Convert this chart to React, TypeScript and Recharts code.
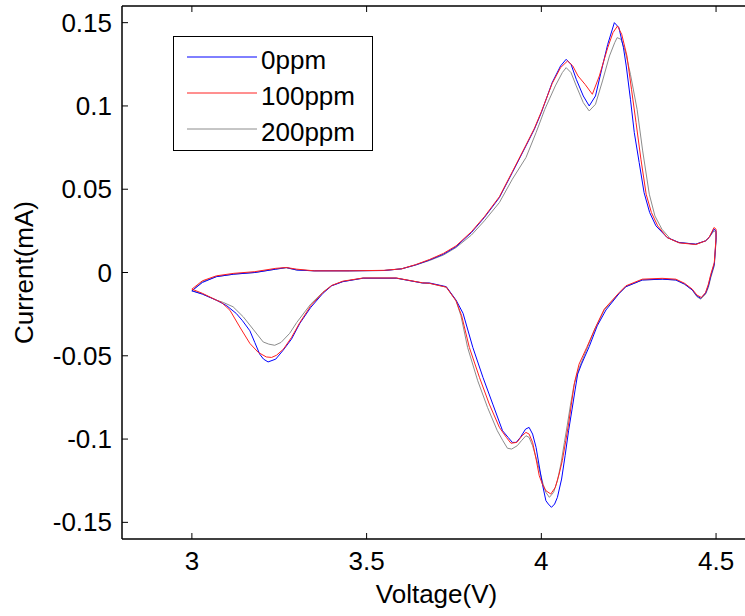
import { LineChart, Line, XAxis, YAxis, Legend, Label } from 'recharts'

const xTicks = [3, 3.5, 4, 4.5]
const yTicks = [-0.15, -0.1, -0.05, 0, 0.05, 0.1, 0.15]
const xDomain = [2.8, 4.6]
const yDomain = [-0.16, 0.16]
const seriesNames = ['0ppm', '100ppm', '200ppm']
const seriesColors = ['#0000ff', '#ff2020', '#8c8c8c']

// each loop: anodic sweep 3.0 -> 4.5, then cathodic sweep back to 3.0
const volt0 = [
  3.0, 3.03, 3.07, 3.12, 3.18, 3.24, 3.27, 3.3, 3.35, 3.45, 3.55, 3.6, 3.64, 3.68, 3.72, 3.756, 3.8, 3.837, 3.88,
  3.917, 3.956, 3.98, 4.0, 4.031, 4.055, 4.071, 4.085, 4.1, 4.12, 4.137, 4.155, 4.175, 4.19, 4.209, 4.222, 4.235,
  4.243, 4.255, 4.266, 4.28, 4.294, 4.31, 4.328, 4.36, 4.394, 4.442, 4.47, 4.48, 4.494, 4.5,
  4.5, 4.495, 4.485, 4.478, 4.47, 4.456, 4.445, 4.432, 4.41, 4.385, 4.346, 4.289, 4.242, 4.223, 4.185, 4.16, 4.137,
  4.115, 4.104, 4.097, 4.088, 4.078, 4.068, 4.058, 4.046, 4.038, 4.029, 4.02, 4.013, 4.003, 3.993, 3.985, 3.975,
  3.965, 3.955, 3.94, 3.928, 3.917, 3.905, 3.889, 3.861, 3.833, 3.804, 3.776, 3.756, 3.728, 3.68, 3.66, 3.585,
  3.49, 3.432, 3.4, 3.375, 3.34, 3.309, 3.285, 3.261, 3.24, 3.218, 3.205, 3.194, 3.18, 3.166, 3.145, 3.127, 3.1,
  3.07, 3.03, 3.0,
]
const curr0 = [
  -0.011, -0.006, -0.0025, -0.001, 0.0, 0.002, 0.003, 0.0015, 0.001, 0.001, 0.0012, 0.0022, 0.0045, 0.0075, 0.011,
  0.0155, 0.024, 0.033, 0.045, 0.06, 0.076, 0.086, 0.096, 0.114, 0.124, 0.128, 0.125, 0.116, 0.106, 0.1, 0.106,
  0.124, 0.137, 0.15, 0.147, 0.135, 0.124, 0.104, 0.084, 0.066, 0.048, 0.036, 0.028, 0.021, 0.018, 0.017, 0.019,
  0.021, 0.026, 0.025,
  0.02, 0.005, -0.002, -0.008, -0.0125, -0.0155, -0.014, -0.0105, -0.007, -0.0045, -0.004, -0.0045, -0.0085,
  -0.0125, -0.0225, -0.032, -0.0445, -0.055, -0.061, -0.07, -0.082, -0.095, -0.11, -0.124, -0.135, -0.139,
  -0.141, -0.139, -0.137, -0.127, -0.115, -0.105, -0.097, -0.093, -0.094, -0.099, -0.102, -0.102, -0.099,
  -0.095, -0.079, -0.063, -0.045, -0.0245, -0.0166, -0.0085, -0.0063, -0.0063, -0.0034, -0.0034, -0.0055,
  -0.008, -0.0125, -0.021, -0.0305, -0.04, -0.0467, -0.052, -0.0537, -0.052, -0.049, -0.042, -0.035, -0.029,
  -0.0246, -0.02, -0.0166, -0.013, -0.011,
]

const volt100 = [
  3.0, 3.03, 3.07, 3.12, 3.18, 3.24, 3.27, 3.3, 3.35, 3.45, 3.55, 3.6, 3.64, 3.68, 3.72, 3.756, 3.8, 3.837, 3.88,
  3.917, 3.956, 3.98, 4.0, 4.031, 4.055, 4.075, 4.09, 4.105, 4.125, 4.146, 4.166, 4.19, 4.205, 4.218, 4.23, 4.245,
  4.258, 4.271, 4.285, 4.3, 4.315, 4.333, 4.36, 4.394, 4.442, 4.47, 4.48, 4.494, 4.5,
  4.5, 4.495, 4.485, 4.478, 4.47, 4.458, 4.445, 4.432, 4.41, 4.385, 4.346, 4.289, 4.242, 4.223, 4.18, 4.155, 4.13,
  4.108, 4.095, 4.086, 4.078, 4.07, 4.06, 4.051, 4.04, 4.027, 4.013, 4.003, 3.994, 3.985, 3.975, 3.965, 3.956,
  3.945, 3.93, 3.913, 3.9, 3.88, 3.851, 3.823, 3.794, 3.772, 3.756, 3.728, 3.68, 3.66, 3.585, 3.49, 3.432, 3.4,
  3.375, 3.34, 3.309, 3.285, 3.262, 3.242, 3.228, 3.213, 3.19, 3.166, 3.137, 3.109, 3.085, 3.07, 3.03, 3.0,
]
const curr100 = [
  -0.01, -0.005, -0.002, -0.0005, 0.0005, 0.0025, 0.003, 0.002, 0.001, 0.001, 0.0013, 0.0022, 0.0047, 0.0078,
  0.0115, 0.016, 0.0245, 0.0335, 0.0455, 0.0605, 0.0765, 0.0865, 0.0965, 0.1135, 0.123, 0.127, 0.124, 0.118,
  0.113, 0.107, 0.118, 0.135, 0.144, 0.148, 0.143, 0.13, 0.11, 0.09, 0.068, 0.047, 0.036, 0.028, 0.021, 0.0178,
  0.0168, 0.019, 0.021, 0.027, 0.026,
  0.021, 0.006, -0.001, -0.007, -0.012, -0.015, -0.0135, -0.01, -0.0065, -0.004, -0.0035, -0.004, -0.008, -0.012,
  -0.022, -0.033, -0.045, -0.055, -0.066, -0.079, -0.091, -0.101, -0.113, -0.121, -0.129, -0.133, -0.131, -0.127,
  -0.122, -0.112, -0.102, -0.097, -0.096, -0.098, -0.102, -0.1025, -0.099, -0.093, -0.079, -0.063, -0.045,
  -0.026, -0.017, -0.0088, -0.0065, -0.0062, -0.0033, -0.0033, -0.0052, -0.0078, -0.012, -0.02, -0.03, -0.039,
  -0.046, -0.0497, -0.051, -0.0507, -0.048, -0.0426, -0.0327, -0.0227, -0.018, -0.0166, -0.0125, -0.01,
]

const volt200 = [
  3.0, 3.03, 3.07, 3.12, 3.18, 3.24, 3.27, 3.3, 3.35, 3.45, 3.55, 3.6, 3.64, 3.68, 3.72, 3.756, 3.8, 3.837, 3.88,
  3.917, 3.956, 3.985, 4.01, 4.04, 4.06, 4.071, 4.085, 4.1, 4.12, 4.137, 4.155, 4.175, 4.195, 4.21, 4.217, 4.228,
  4.24, 4.255, 4.274, 4.29, 4.309, 4.325, 4.345, 4.37, 4.394, 4.442, 4.47, 4.48, 4.494, 4.5,
  4.5, 4.495, 4.485, 4.478, 4.47, 4.456, 4.445, 4.432, 4.41, 4.385, 4.346, 4.289, 4.242, 4.223, 4.18, 4.153, 4.13,
  4.107, 4.093, 4.083, 4.074, 4.066, 4.056, 4.046, 4.035, 4.023, 4.013, 4.005, 3.99, 3.975, 3.965, 3.956, 3.943,
  3.931, 3.915, 3.903, 3.89, 3.874, 3.846, 3.818, 3.789, 3.77, 3.756, 3.728, 3.68, 3.66, 3.585, 3.49, 3.432, 3.4,
  3.375, 3.34, 3.3, 3.28, 3.255, 3.237, 3.22, 3.204, 3.175, 3.147, 3.118, 3.09, 3.07, 3.03, 3.0,
]
const curr200 = [
  -0.011, -0.0055, -0.0025, -0.001, 0.0, 0.002, 0.0028, 0.0015, 0.001, 0.001, 0.0012, 0.0022, 0.0045, 0.0072,
  0.0105, 0.015, 0.0225, 0.031, 0.042, 0.056, 0.069, 0.084, 0.098, 0.112, 0.12, 0.123, 0.12, 0.112, 0.102, 0.097,
  0.101, 0.115, 0.13, 0.138, 0.141, 0.14, 0.133, 0.119, 0.098, 0.073, 0.047, 0.034, 0.026, 0.02, 0.018, 0.017,
  0.019, 0.021, 0.025, 0.024,
  0.019, 0.004, -0.003, -0.009, -0.013, -0.016, -0.0145, -0.0105, -0.007, -0.0045, -0.004, -0.0045, -0.0085,
  -0.0125, -0.0225, -0.034, -0.046, -0.058, -0.068, -0.08, -0.092, -0.102, -0.115, -0.125, -0.132, -0.135, -0.132,
  -0.127, -0.115, -0.104, -0.099, -0.098, -0.101, -0.104, -0.106, -0.1055, -0.101, -0.095, -0.081, -0.065,
  -0.045, -0.026, -0.017, -0.0088, -0.0065, -0.0063, -0.0034, -0.0034, -0.0054, -0.0078, -0.0118, -0.019, -0.03,
  -0.0365, -0.042, -0.0437, -0.043, -0.0417, -0.034, -0.0266, -0.0206, -0.018, -0.0166, -0.0128, -0.011,
]

function toPoints(volts: number[], currs: number[]) {
  return volts.map((v, k) => ({ v, i: currs[k] }))
}

const series = [
  { name: seriesNames[2], color: seriesColors[2], data: toPoints(volt200, curr200) },
  { name: seriesNames[0], color: seriesColors[0], data: toPoints(volt0, curr0) },
  { name: seriesNames[1], color: seriesColors[1], data: toPoints(volt100, curr100) },
]

const font = 26
const tickLen = 6
const chartW = 760
const chartH = 616
const padTop = 6
const padRight = 9
const xAxisH = 77
const yAxisW = 122
const plotH = chartH - padTop - xAxisH
const plotW = chartW - padRight - yAxisW

// matlab style: tick marks point into the box on all four sides, labels sit outside
function BottomTick(props: any) {
  const { x, y, payload } = props
  const axisY = y - tickLen
  return (
    <g>
      <line x1={x} x2={x} y1={axisY} y2={axisY - tickLen} stroke="#000" />
      <line x1={x} x2={x} y1={axisY - plotH} y2={axisY - plotH + tickLen} stroke="#000" />
      <text x={x} y={axisY + 31} textAnchor="middle" fontSize={font} fill="#000">
        {payload.value}
      </text>
    </g>
  )
}

function LeftTick(props: any) {
  const { x, y, payload } = props
  const axisX = x + tickLen
  return (
    <g>
      <line x1={axisX} x2={axisX + tickLen} y1={y} y2={y} stroke="#000" />
      <line x1={axisX + plotW} x2={axisX + plotW - tickLen} y1={y} y2={y} stroke="#000" />
      <text x={axisX - 10} y={y + 9} textAnchor="end" fontSize={font} fill="#000">
        {payload.value}
      </text>
    </g>
  )
}

function BoxLegend() {
  return (
    <svg width={200} height={115} style={{ display: 'block' }}>
      <rect x={0.5} y={0.5} width={199} height={114} fill="#fff" stroke="#000" />
      {seriesNames.map((name, k) => (
        <g key={name}>
          <line x1={14} x2={84} y1={21 + k * 36} y2={21 + k * 36} stroke={seriesColors[k]} strokeWidth={1} />
          <text x={88} y={33 + k * 36} fontSize={font} fill="#000">
            {name}
          </text>
        </g>
      ))}
    </svg>
  )
}

function XTitle(props: any) {
  const vb = props.viewBox
  return (
    <text x={vb.x + vb.width / 2} y={vb.y + 64} textAnchor="middle" fontSize={font} fill="#000">
      Voltage(V)
    </text>
  )
}

// y title; the box's top and right edges are drawn alongside it, from the same axis viewBox
function YTitle(props: any) {
  const vb = props.viewBox
  const cx = vb.x + 33
  const cy = vb.y + vb.height / 2
  const left = vb.x + vb.width
  return (
    <g>
      <line x1={left} x2={left + plotW} y1={vb.y} y2={vb.y} stroke="#000" strokeWidth={1.5} />
      <line x1={left + plotW} x2={left + plotW} y1={vb.y} y2={vb.y + vb.height} stroke="#000" strokeWidth={1.5} />
      <text x={cx} y={cy} textAnchor="middle" fontSize={font} fill="#000" transform={`rotate(-90, ${cx}, ${cy})`}>
        Current(mA)
      </text>
    </g>
  )
}

export default function App() {
  const axisLine = { stroke: '#000', strokeWidth: 1.5 }
  return (
    <div
      style={{
        position: 'absolute',
        left: 0,
        top: 0,
        width: 745,
        height: 616,
        overflow: 'hidden',
        background: '#fff',
        fontFamily: '"Liberation Sans", Arial, sans-serif',
      }}
    >
      <LineChart width={chartW} height={chartH} margin={{ top: padTop, right: padRight, bottom: 0, left: 0 }}>
        <XAxis
          dataKey="v"
          type="number"
          domain={xDomain}
          ticks={xTicks}
          allowDataOverflow
          height={xAxisH}
          tickSize={tickLen}
          tickMargin={0}
          axisLine={axisLine}
          tickLine={false}
          tick={BottomTick}
        >
          <Label content={XTitle} />
        </XAxis>
        <YAxis
          type="number"
          domain={yDomain}
          ticks={yTicks}
          allowDataOverflow
          width={yAxisW}
          tickSize={tickLen}
          tickMargin={0}
          axisLine={axisLine}
          tickLine={false}
          tick={LeftTick}
        >
          <Label content={YTitle} />
        </YAxis>
        <Legend
          layout="horizontal"
          verticalAlign="middle"
          align="center"
          content={BoxLegend}
          wrapperStyle={{ left: 173, top: 36, width: 200, height: 115 }}
        />
        {series.map((s) => (
          <Line
            key={s.name}
            data={s.data}
            dataKey="i"
            name={s.name}
            type="linear"
            stroke={s.color}
            strokeWidth={1}
            dot={false}
            isAnimationActive={false}
          />
        ))}
      </LineChart>
    </div>
  )
}
